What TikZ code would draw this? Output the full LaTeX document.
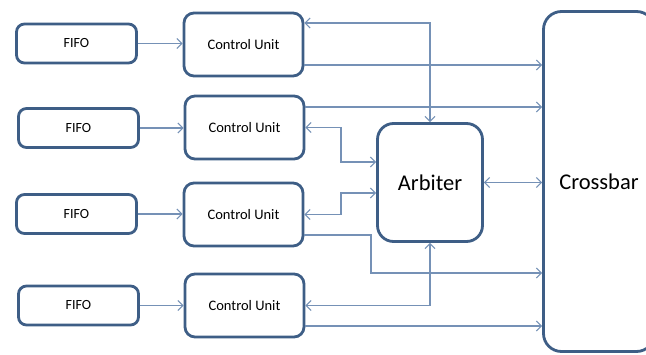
\documentclass[tikz,border=0pt]{standalone}
\usepackage{fontspec}
\setmainfont{Carlito}
\usetikzlibrary{arrows.meta}
\definecolor{boxline}{HTML}{3E5E86}
\definecolor{wire}{HTML}{7591B6}
\tikzset{
  fifobox/.style={draw=boxline, line width=2.8pt, rounded corners=8pt,
    minimum width=120pt, minimum height=39pt, font=\fontsize{14}{16}\selectfont, inner sep=0pt},
  cubox/.style={draw=boxline, line width=2.8pt, rounded corners=10pt,
    minimum width=119pt, minimum height=63pt, font=\fontsize{14.5}{16}\selectfont, inner sep=0pt},
  bigbox/.style={draw=boxline, line width=2.8pt, rounded corners=16pt,
    font=\fontsize{22.5}{26}\selectfont, inner sep=0pt},
  wireline/.style={draw=wire, line width=1.1pt, -{Straight Barb[length=5pt,width=10pt]}},
  biwire/.style={draw=wire, line width=1.1pt, {Straight Barb[length=5pt,width=10pt]}-{Straight Barb[length=5pt,width=10pt]}},
}
\begin{document}
\begin{tikzpicture}[x=1pt,y=-1pt]
\useasboundingbox (0,0) rectangle (646,354);
\clip (0,0) rectangle (646,354);
\fill[white] (0,0) rectangle (646,354);

% FIFO buffers
\node[fifobox] (f1) at (76.5,43.5) {FIFO};
\node[fifobox] (f2) at (78.5,128) {FIFO};
\node[fifobox] (f3) at (76.5,214) {FIFO};
\node[fifobox] (f4) at (78.5,305.5) {FIFO};

% control units
\node[cubox] (c1) at (243.5,44.5) {Control Unit};
\node[cubox] (c2) at (244.5,127.5) {Control Unit};
\node[cubox] (c3) at (243.5,214.5) {Control Unit};
\node[cubox] (c4) at (244.5,305.5) {Control Unit};

% arbiter and crossbar
\node[bigbox, minimum width=105pt, minimum height=118pt] (arb) at (430,182.5) {Arbiter};
\node[bigbox, rounded corners=18pt, minimum width=111pt, minimum height=340pt] (xbar) at (599,181.5) {Crossbar};

% bend points of the routed wires
\coordinate (t1) at (430,23);
\coordinate (r1) at (0,65);
\coordinate (r2) at (0,107);
\coordinate (j2) at (341,162);
\coordinate (j3) at (341,193);
\coordinate (s3) at (0,235);
\coordinate (j4) at (371,273);
\coordinate (r4) at (0,326);

% FIFO to control unit
\foreach \i in {1,2,3,4} {
  \draw[wireline] (f\i.east) -- (f\i.east -| c\i.west);
}

% control unit 1
\draw[biwire] (c1.east |- t1) -| (arb.north);
\draw[wireline] (c1.east |- r1) -- (xbar.west |- r1);

% control unit 2
\draw[wireline] (c2.east |- r2) -- (xbar.west |- r2);
\draw[biwire] (c2.east) -| (j2) -- (arb.west |- j2);

% arbiter to crossbar
\draw[biwire] (arb.east) -- (xbar.west |- arb.east);

% control unit 3
\draw[biwire] (c3.east) -| (j3) -- (arb.west |- j3);
\draw[wireline] (c3.east |- s3) -| (j4) -- (xbar.west |- j4);

% control unit 4
\draw[biwire] (c4.east) -| (arb.south);
\draw[wireline] (c4.east |- r4) -- (xbar.west |- r4);
\end{tikzpicture}
\end{document}
